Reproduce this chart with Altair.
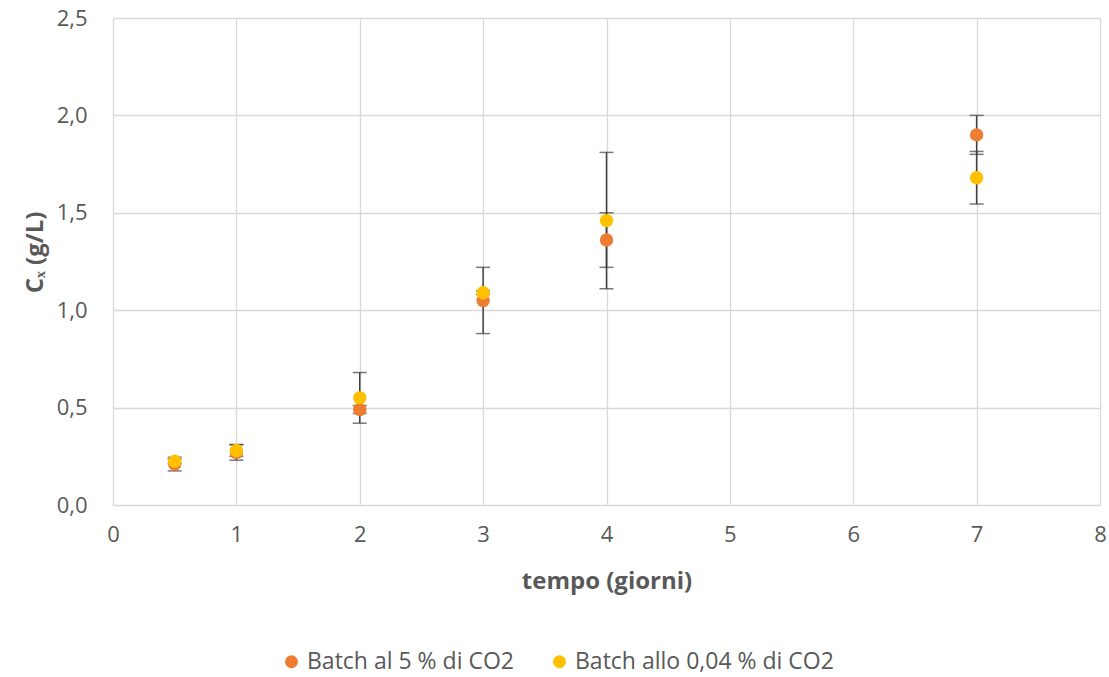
import altair as alt
import pandas as pd

tempo = [0.5, 1, 2, 3, 4, 7]
batch5 = [0.21, 0.27, 0.49, 1.05, 1.36, 1.90]
batch5_err = [0.035, 0.04, 0.02, 0.17, 0.14, 0.10]
batch004 = [0.225, 0.28, 0.55, 1.09, 1.46, 1.68]
batch004_err = [0.01, 0.03, 0.13, 0.01, 0.35, 0.135]
series_names = ["Batch al 5 % di CO2", "Batch allo 0,04 % di CO2"]
colors = ["#ED7D31", "#FFC000"]

rows = []
for name, vals, errs in [(series_names[0], batch5, batch5_err), (series_names[1], batch004, batch004_err)]:
    for t, v, e in zip(tempo, vals, errs):
        rows.append({"t": t, "v": v, "lo": v - e, "hi": v + e, "serie": name})
df = pd.DataFrame(rows)

FONT = "Open Sans"
GREY = "#595959"

x = alt.X("t:Q", scale=alt.Scale(domain=[0, 8], nice=False),
          axis=alt.Axis(values=list(range(0, 9)), title="tempo (giorni)",
                        titleY=76, titleBaseline="middle"))
base = alt.Chart(df)

bars = base.mark_errorbar(ticks=alt.MarkConfig(size=14, color="#404040"), color="#404040", thickness=1.5).encode(
    x=x,
    y=alt.Y("lo:Q", title="Cₓ (g/L)"),
    y2="hi:Q",
)

points = base.mark_circle(size=180, opacity=1).encode(
    x=x,
    y=alt.Y("v:Q", scale=alt.Scale(domain=[0, 2.5], nice=False),
            axis=alt.Axis(values=[0, 0.5, 1, 1.5, 2, 2.5], title="Cₓ (g/L)",
                          labelExpr="replace(format(datum.value, '.1f'), '.', ',')",
                          titleX=-78, titleY=234, titleBaseline="middle")),
    color=alt.Color("serie:N", scale=alt.Scale(domain=series_names, range=colors),
                    legend=alt.Legend(title=None, orient="none", direction="horizontal",
                                      legendX=167, legendY=632, symbolType="circle",
                                      symbolSize=170, columnPadding=34, labelLimit=0,
                                      labelOffset=4,
                                      labelFontSize=23, labelColor=GREY, labelFont=FONT)),
)

chart = alt.layer(bars, points).properties(
    width=987, height=487,
    autosize=alt.AutoSizeParams(type="none"),
    padding={"left": 113, "top": 18, "right": 9, "bottom": 172},
).configure_view(stroke=None).configure_axis(
    grid=True, gridColor="#D9D9D9", gridWidth=1.3, domain=False, ticks=False,
    labelFlush=False, labelOverlap=False,
    labelFont=FONT, labelFontSize=22, labelColor=GREY, labelPadding=26,
    titleFont=FONT, titleFontSize=24, titleColor=GREY, titleFontWeight="bold",
).configure_axisX(domain=True, domainColor="#D9D9D9", labelPadding=19)

chart.save("out.html", embed_options={"renderer": "svg", "actions": False})
